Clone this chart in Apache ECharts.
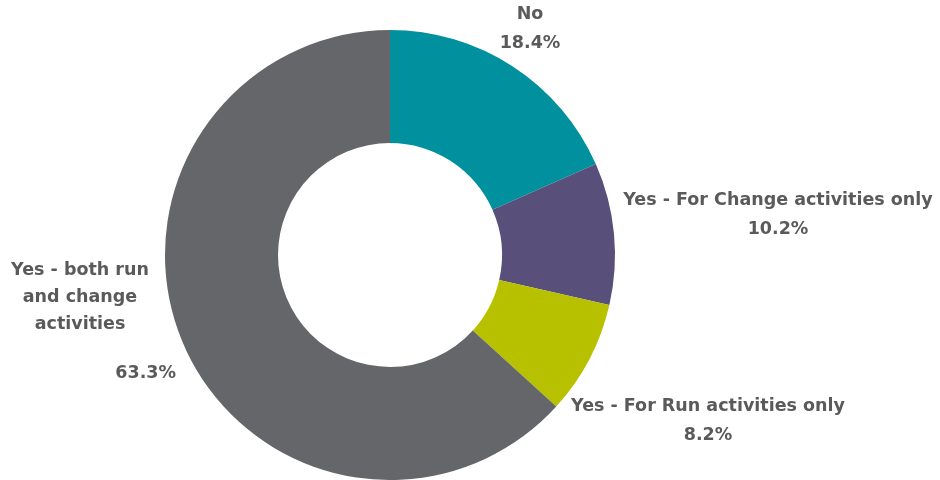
<!DOCTYPE html>
<html>
<head>
<meta charset="utf-8">
<script src="https://cdn.jsdelivr.net/npm/echarts@6/dist/echarts.min.js"></script>
<style>
  html, body { margin: 0; padding: 0; background: #fff; }
  #chart { width: 940px; height: 480px; }
</style>
</head>
<body>
<div id="chart"></div>
<script>
// Survey answers and their shares (%)
const categories = [
  'No',
  'Yes - For Change activities only',
  'Yes - For Run activities only',
  'Yes - both run\nand change\nactivities'
];
const shares = [18.4, 10.2, 8.2, 63.3];
const sliceColors = ['#00909e', '#58507a', '#b7c100', '#646669'];

// Where each label block sits around the ring
const labelSpots = [
  { x: 530, y: 29, align: 'center' },
  { x: 778, y: 215, align: 'center' },
  { x: 708, y: 421, align: 'center' },
  { x: 8, y: 322, align: 'left' }
];

const chart = echarts.init(document.getElementById('chart'), null, { renderer: 'canvas' });

const textStyle = {
  fontFamily: '"DejaVu Sans", sans-serif',
  fontWeight: 'bold',
  fontSize: 17.5,
  color: '#5a5a5a'
};

chart.setOption({
  animation: false,
  series: [{
    type: 'pie',
    center: [390, 255],
    radius: [112, 225],
    startAngle: 90,
    clockwise: true,
    avoidLabelOverlap: false,
    labelLine: { show: false },
    label: {
      show: true,
      position: 'outside',
      ...textStyle,
      lineHeight: 29,
      formatter: p => {
        const pct = p.value.toFixed(1) + '%';
        if (p.dataIndex === 3) {
          return '{n|' + p.name + '}\n{gap|}\n{p|' + pct + '}';
        }
        return p.name + '\n' + pct;
      },
      rich: {
        // name lines sit a little left of the block centre, percentage hugs the right
        n: { ...textStyle, align: 'center', padding: [0, 24, 0, 0], lineHeight: 27 },
        gap: { lineHeight: 22 },
        p: { ...textStyle, width: 168, align: 'right', lineHeight: 27 }
      }
    },
    labelLayout: params => {
      const s = labelSpots[params.dataIndex];
      return { x: s.x, y: s.y, align: s.align, verticalAlign: 'middle' };
    },
    data: categories.map((name, i) => ({
      name,
      value: shares[i],
      itemStyle: { color: sliceColors[i] }
    }))
  }]
});
</script>
</body>
</html>
